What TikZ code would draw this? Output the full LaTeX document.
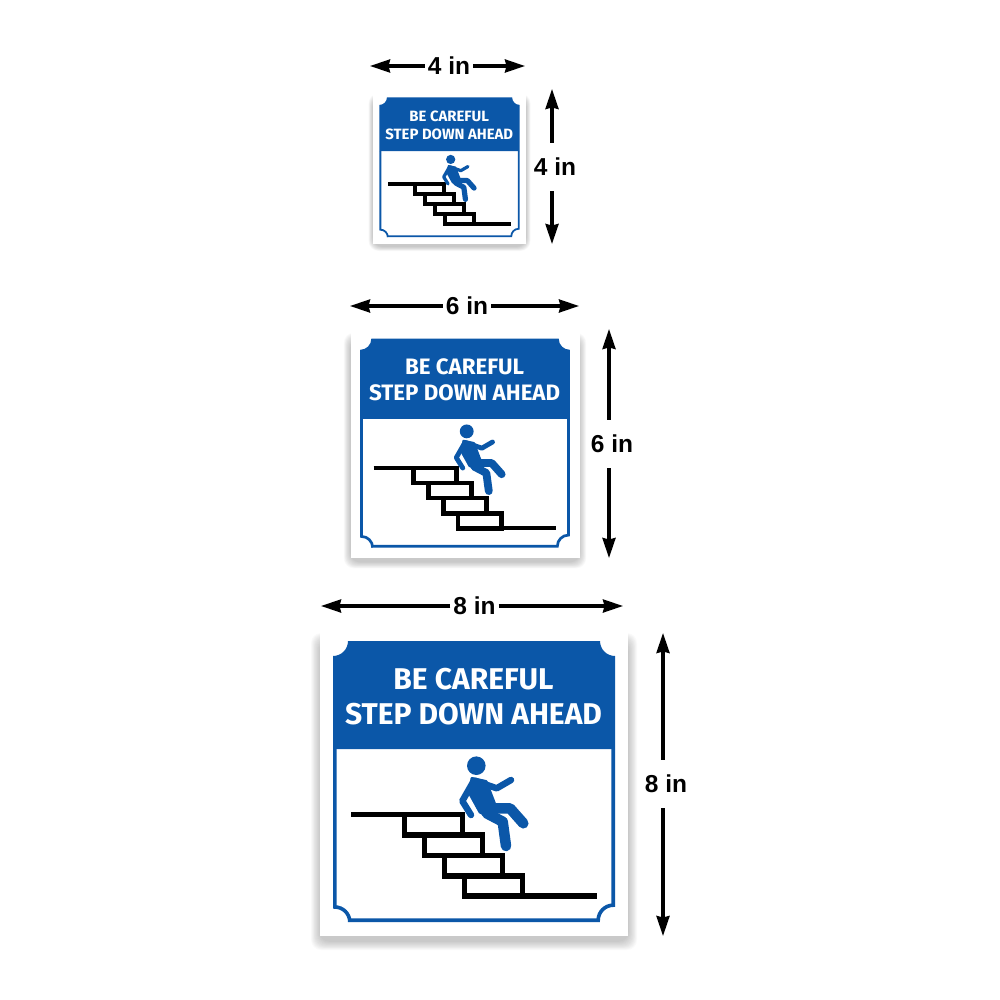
\documentclass[tikz,border=0pt]{standalone}
\usepackage{fontspec}
\setmainfont{Liberation Sans}
\newfontfamily\signfont{Fira Sans}
\usetikzlibrary{positioning, arrows.meta}

\definecolor{signblue}{HTML}{0B57A8}

\tikzset{
  dimlabel/.style={inner sep=0pt,minimum size=48pt,font=\fontsize{24.5}{25}\selectfont\bfseries},
  dimarrow/.style={->,line width=3.2pt},
  signtitle/.style={anchor=base,text=white,inner sep=0pt,font=\signfont\fontsize{30}{30}\selectfont\bfseries},
  pics/signpanel/.style={code={
    \begin{scope}[scale=#1,transform shape]
      % Sombra y placa
      \foreach \d in {1,...,12}
        \fill[black,opacity=0.02,rounded corners=10pt]
          (-0.75*\d,14-0.75*\d) rectangle (308+0.75*\d,308+5+0.75*\d);
      \fill[white] (0,0) rectangle (308,308);
      % Cabecera y borde
      \fill[signblue] (13,28) arc[start angle=90,end angle=0,radius=15]
        -- (280,13) arc[start angle=180,end angle=90,radius=15]
        -- (295,121) -- (13,121) -- cycle;
      \draw[signblue,line width=#1*3.6pt] (14.8,121) -- (14.8,279)
        arc[start angle=270,end angle=360,radius=15] -- (29.8,292.2)
        -- (278.2,292.2) arc[start angle=180,end angle=270,radius=15]
        -- (293.2,121);
      % Texto
      \node[signtitle] (-line1) at (153.5,61.6) {BE CAREFUL};
      \node[signtitle] (-line2) at (153.5,96.6) {STEP DOWN AHEAD};
      % Escalera
      \draw[line width={(#1*3.5+2)*1pt}] (31,186.7) -- (84.7,186.7);
      \foreach \i in {0,...,3}
        \draw[line width={(#1*3.5+2)*1pt}] (84.7+20*\i,186.7+20.4*\i) rectangle +(58,20.4);
      \draw[line width={(#1*3.5+2)*1pt}] (144.7,267.9) -- (276.7,267.9);
      % Persona
      \fill[signblue] (156.3,137.7) circle[radius=9.3];
      \fill[signblue,draw=signblue,line width=#1*3pt,line join=round]
        (152,150.5) -- (166,153.5) -- (175,177) -- (168,188) -- (160,184) -- (149.5,165) -- cycle;
      \draw[signblue,line width=#1*6.5pt,line cap=round,line join=round]
        (155,152.7) -- (176.7,160.3) -- (191,152);
      \draw[signblue,line width=#1*6.5pt,line cap=round,line join=round]
        (153.3,153.7) -- (142.3,173) -- (151,187);
      \draw[signblue,line width=#1*10.5pt,line cap=round,line join=round]
        (168.3,180.3) -- (190,180.3) -- (203.3,195.3);
      \draw[signblue,line width=#1*10.5pt,line cap=round,line join=round]
        (166.7,185.3) -- (182.7,193.7) -- (186,218);
    \end{scope}
  }}
}

\begin{document}
\begin{tikzpicture}[x=1pt,y=-1pt,>={Stealth[length=20pt,width=13pt,inset=1.5pt]},on grid]
    \useasboundingbox (0,0) rectangle (1000,1000);

    %%% PLACAS %%%
    \pic (small)  at (373,91)   {signpanel=0.497};
    \pic (medium) at (350.5,329) {signpanel=0.7435};
    \pic (large)  at (320,628)  {signpanel=1};

    %%% MEDIDAS %%%
    % 4 in
    \node[dimlabel] (wfour) at (449,66) {4 in};
    \coordinate[left=79pt of wfour] (wfourl);
    \coordinate[right=76pt of wfour] (wfourr);
    \node[dimlabel] (hfour) at (555,167) {4 in};
    \coordinate (hfourt) at (552,89);
    \coordinate (hfourb) at (552,244);

    % 6 in
    \node[dimlabel] (wsix) at (467,306) {6 in};
    \coordinate[left=117pt of wsix] (wsixl);
    \coordinate[right=112pt of wsix] (wsixr);
    \node[dimlabel] (hsix) at (612,444) {6 in};
    \coordinate (hsixt) at (609,329);
    \coordinate (hsixb) at (609,558);

    % 8 in
    \node[dimlabel] (weight) at (474.5,606) {8 in};
    \coordinate[left=153.5pt of weight] (weightl);
    \coordinate[right=148.5pt of weight] (weightr);
    \node[dimlabel] (height) at (666,784) {8 in};
    \coordinate (heightt) at (663,633);
    \coordinate (heightb) at (663,936);

    %%% FLECHAS %%%
    \path[dimarrow]
    (wfour)  edge (wfourl)
             edge (wfourr)
    (hfourt |- hfour.north) edge (hfourt)
    (hfourt |- hfour.south) edge (hfourb)
    (wsix)   edge (wsixl)
             edge (wsixr)
    (hsixt |- hsix.north) edge (hsixt)
    (hsixt |- hsix.south) edge (hsixb)
    (weight) edge (weightl)
             edge (weightr)
    (heightt |- height.north) edge (heightt)
    (heightt |- height.south) edge (heightb);
\end{tikzpicture}
\end{document}
